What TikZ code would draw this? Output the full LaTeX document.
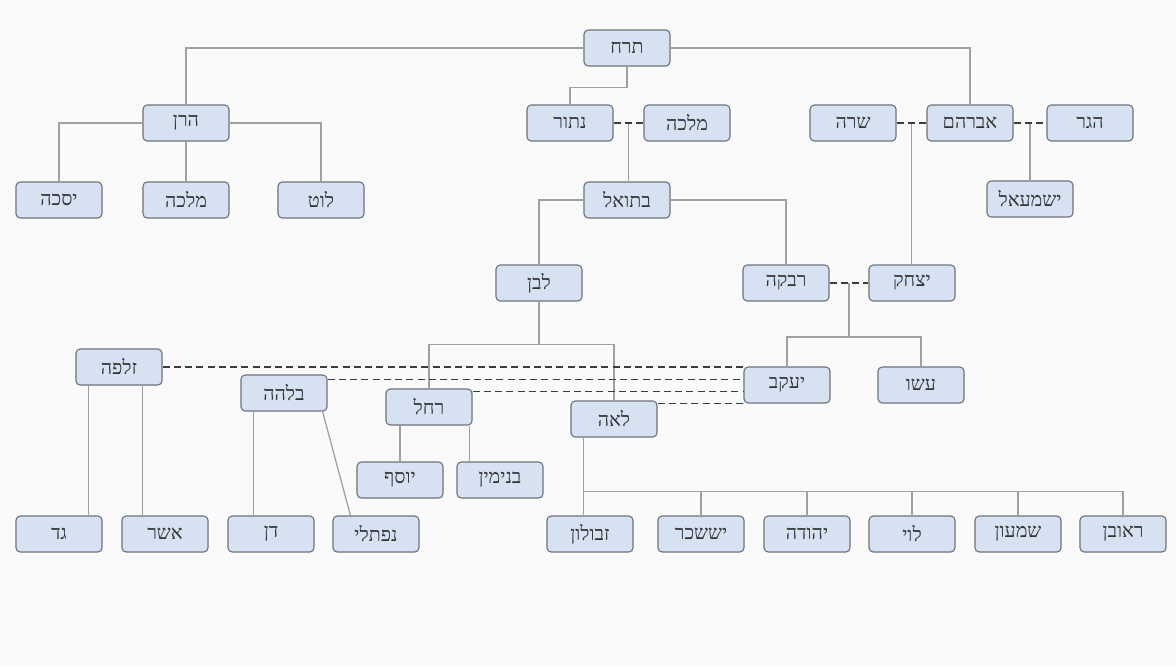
\documentclass[tikz,border=0pt]{standalone}
\usepackage{fontspec}
\newfontfamily\hebfont[Script=Hebrew]{Liberation Serif}
\TeXXeTstate=1
\usetikzlibrary{calc}
\definecolor{boxfill}{RGB}{214,225,242}
\definecolor{boxline}{RGB}{110,116,124}
\definecolor{kinline}{RGB}{160,160,160}
\definecolor{wedline}{RGB}{60,60,60}
\definecolor{paper}{RGB}{250,250,250}
\newcommand\heb[1]{\beginR#1\endR}
\begin{document}
\begin{tikzpicture}[x = 0.025cm,y = -0.025cm,
box/.style = {draw = boxline,fill = boxfill,rounded corners = 3pt,line width = .8pt,minimum width = 2.15cm,minimum height = .9cm,font = \hebfont\fontsize{14}{16}\selectfont,text = black!80},
kin/.style = {draw = kinline,line width = .9pt},
wed/.style = {draw = wedline,line width = 1.3pt,dash pattern = on 5pt off 3pt}]
\useasboundingbox (0,0) rectangle (1176,666);
\fill[paper] (0,0) rectangle (1176,666);
\node[box] (terah) at (627,48) {\heb{תרח}};
\node[box] (haran) at (186,123) {\heb{הרן}};
\node[box] (nahor) at (570,123) {\heb{נתור}};
\node[box] (milca) at (687,123) {\heb{מלכה}};
\node[box] (sarah) at (853,123) {\heb{שרה}};
\node[box] (avraham) at (970,123) {\heb{אברהם}};
\node[box] (hagar) at (1090,123) {\heb{הגר}};
\node[box] (yiska) at (59,200) {\heb{יסכה}};
\node[box] (milca2) at (186,200) {\heb{מלכה}};
\node[box] (lot) at (321,200) {\heb{לוט}};
\node[box] (betuel) at (627,200) {\heb{בתואל}};
\node[box] (ishmael) at (1030,199) {\heb{ישמעאל}};
\node[box] (lavan) at (539,283) {\heb{לבן}};
\node[box] (rivka) at (786,283) {\heb{רבקה}};
\node[box] (yitzhak) at (912,283) {\heb{יצחק}};
\node[box] (zilpa) at (119,367) {\heb{זלפה}};
\node[box] (bilha) at (284,393) {\heb{בלהה}};
\node[box] (rachel) at (429,407) {\heb{רחל}};
\node[box] (yaakov) at (787,385) {\heb{יעקב}};
\node[box] (esav) at (921,385) {\heb{עשו}};
\node[box] (lea) at (614,419) {\heb{לאה}};
\node[box] (yosef) at (400,480) {\heb{יוסף}};
\node[box] (binyamin) at (500,480) {\heb{בנימין}};
\foreach \nm/\x/\t in {gad/59/גד,asher/165/אשר,dan/271/דן,naftali/376/נפתלי,zevulun/590/זבולון,issachar/701/יששכר,yehuda/807/יהודה,levi/912/לוי,shimon/1018/שמעון,reuven/1123/ראובן} {
\node[box] (\nm) at (\x,534) {\heb{\t}};
}
\draw[kin] (terah.west) -| (haran.north);
\draw[kin] (terah.east) -| (avraham.north);
\draw[kin] (terah.south) -- ++(0,21) -| (nahor.north);
\draw[kin] (haran.west) -| (yiska.north);
\draw[kin] (haran.east) -| (lot.north);
\draw[kin] (haran.south) -- (milca2.north);
\coordinate (m1) at ($(nahor.east)!.5!(milca.west)$);
\coordinate (m2) at ($(sarah.east)!.5!(avraham.west)$);
\coordinate (m3) at ($(avraham.east)!.5!(hagar.west)$);
\coordinate (m4) at ($(rivka.east)!.5!(yitzhak.west)$);
\draw[kin] (m1) -- (m1 |- betuel.north);
\draw[kin] (m2) -- (m2 |- yitzhak.north);
\draw[kin] (m3) -- (m3 |- ishmael.north);
\draw[kin] (betuel.west) -| (lavan.north);
\draw[kin] (betuel.east) -| (rivka.north);
\draw[kin] (m4) -- ++(0,54) coordinate (k1) -| (yaakov.north);
\draw[kin] (k1) -| (esav.north);
\draw[kin] (lavan.south) -- ++(0,43) coordinate (k2) -| (rachel.north);
\draw[kin] (k2) -| (lea.north);
\draw[kin] (yosef.north) -- (yosef.north |- rachel.south);
\coordinate (b2) at ($(binyamin.north west)+(13,0)$);
\draw[kin] (b2) -- (b2 |- rachel.south);
\coordinate (z1) at ($(zilpa.south west)+(13,0)$);
\coordinate (z2) at ($(zilpa.south east)+(-20,0)$);
\draw[kin] (z1) -- (z1 |- gad.north);
\draw[kin] (z2) -- (z2 |- asher.north);
\coordinate (b3) at ($(bilha.south west)+(13,0)$);
\draw[kin] (b3) -- (b3 |- dan.north);
\draw[kin] ($(bilha.south east)+(-5,0)$) -- ($(naftali.north west)+(18,0)$);
\coordinate (l0) at ($(lea.south west)+(13,0)$);
\coordinate (l1) at ($(lea.south west)+(13,54)$);
\draw[kin] (l0) -- (l1) -- (l1 |- zevulun.north);
\foreach \nm in {issachar,yehuda,levi,shimon,reuven} {
\draw[kin] (l1) -| (\nm.north);
}
\draw[wed] (nahor.east) -- (milca.west);
\draw[wed] (sarah.east) -- (avraham.west);
\draw[wed] (avraham.east) -- (hagar.west);
\draw[wed] (rivka.east) -- (yitzhak.west);
\coordinate (b1) at ($(bilha.north east)+(0,5)$);
\coordinate (r1) at ($(rachel.north east)+(0,3)$);
\draw[wed] (zilpa.east) -- (zilpa.east -| yaakov.west);
\draw[wed] (b1) -- (b1 -| yaakov.west);
\draw[wed] (r1) -- (r1 -| yaakov.west);
\draw[wed] (yaakov.south west) -- (yaakov.south west -| lea.east);
\end{tikzpicture}
\end{document}
